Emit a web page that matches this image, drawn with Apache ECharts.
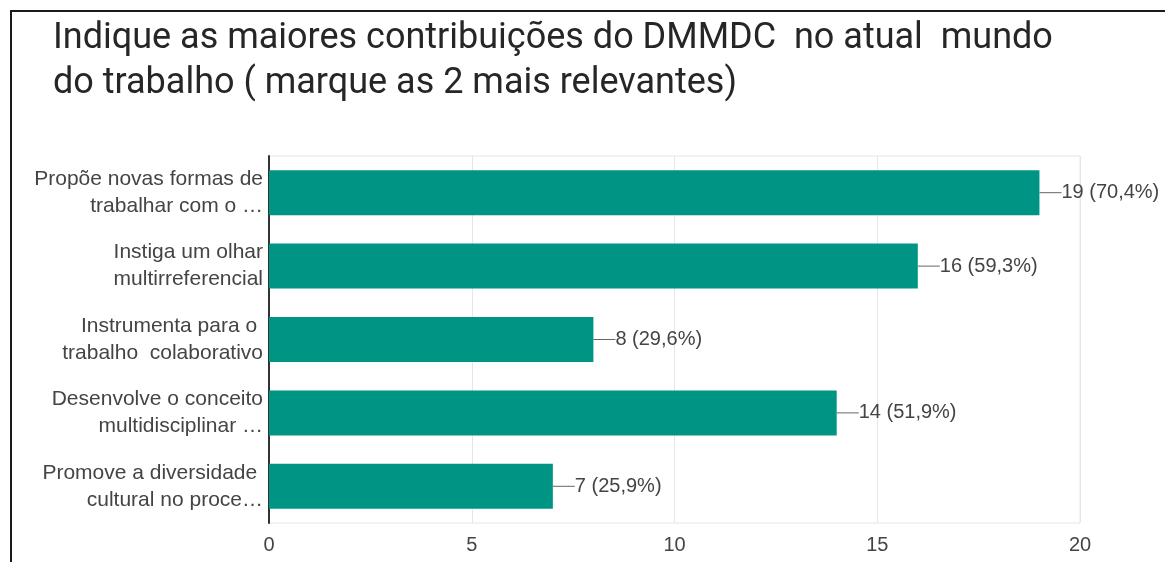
<!DOCTYPE html>
<html>
<head>
<meta charset="utf-8">
<script src="https://cdn.jsdelivr.net/npm/echarts@6/dist/echarts.min.js"></script>
<style>
  html, body { margin: 0; padding: 0; background: #fff; }
  #chart { width: 1165px; height: 562px; }
  #frame {
    position: absolute; left: 10px; top: 10px; width: 1200px; height: 600px;
    border-left: 2px solid #1a1a1a; border-top: 2px solid #1a1a1a;
    pointer-events: none;
  }
</style>
</head>
<body>
<div id="chart"></div>
<div id="frame"></div>
<script>
// dados
const titleText = 'Indique as maiores contribuições do DMMDC  no atual  mundo\ndo trabalho ( marque as 2 mais relevantes)';
const categories = [
  'Propõe novas formas de\ntrabalhar com o …',
  'Instiga um olhar\nmultirreferencial',
  'Instrumenta para o \ntrabalho  colaborativo',
  'Desenvolve o conceito\nmultidisciplinar …',
  'Promove a diversidade \ncultural no proce…'
];
const counts = [19, 16, 8, 14, 7];
const percents = ['70,4%', '59,3%', '29,6%', '51,9%', '25,9%'];
const xTicks = [0, 5, 10, 15, 20];

let myChart = echarts.init(document.getElementById('chart'));

myChart.setOption({
  animation: false,
  title: {
    text: titleText,
    left: 53,
    top: 16,
    padding: 0,
    textStyle: {
      fontFamily: 'Roboto',
      fontSize: 36,
      fontWeight: 'normal',
      lineHeight: 45,
      color: '#262626'
    }
  },
  grid: {
    left: 269,
    right: 85,
    top: 156,
    bottom: 39,
    show: true,
    borderColor: '#e6e6e6',
    borderWidth: 1
  },
  xAxis: {
    type: 'value',
    min: xTicks[0],
    max: xTicks[xTicks.length - 1],
    interval: 5,
    axisLine: { show: false },
    axisTick: { show: false },
    splitLine: { lineStyle: { color: '#e6e6e6', width: 1 } },
    axisLabel: {
      fontFamily: 'Liberation Sans',
      fontSize: 20,
      color: '#444',
      margin: 12
    }
  },
  yAxis: {
    type: 'category',
    inverse: true,
    data: categories,
    axisLine: { show: true, lineStyle: { color: '#333', width: 2 } },
    axisTick: { show: false },
    axisLabel: {
      fontFamily: 'Liberation Sans',
      fontSize: 21,
      lineHeight: 27,
      color: '#444',
      margin: 6,
      align: 'right'
    }
  },
  series: [{
    type: 'bar',
    data: counts,
    barWidth: 45,
    itemStyle: { color: '#009485' },
    label: {
      show: true,
      position: 'right',
      distance: 0,
      fontFamily: 'Liberation Sans',
      fontSize: 20,
      color: '#444',
      formatter: function (p) {
        return p.value + ' (' + percents[p.dataIndex] + ')';
      }
    },
    labelLayout: { dx: 22 },
    labelLine: {
      show: true,
      lineStyle: { color: '#666', width: 1 }
    }
  }]
});
</script>
</body>
</html>
